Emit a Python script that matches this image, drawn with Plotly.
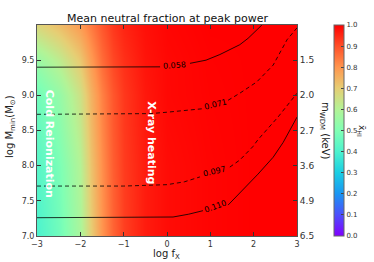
import plotly.graph_objects as go

# ---- data ----
log_fx = [-3, -2.5, -2, -1.75, -1.5, -1.25, -1, -0.5, 0, 1, 2, 3]
log_mmin = [7.0, 8.0, 9.0, 9.5, 10.0]
xhi = [
    [0.40, 0.47, 0.58, 0.70, 0.80, 0.87, 0.92, 0.965, 0.985, 0.995, 1.0, 1.0],
    [0.42, 0.49, 0.60, 0.72, 0.81, 0.88, 0.925, 0.965, 0.985, 0.995, 1.0, 1.0],
    [0.47, 0.54, 0.65, 0.75, 0.83, 0.89, 0.93, 0.97, 0.99, 0.997, 1.0, 1.0],
    [0.55, 0.62, 0.71, 0.79, 0.86, 0.91, 0.94, 0.975, 0.99, 0.998, 1.0, 1.0],
    [0.68, 0.73, 0.79, 0.84, 0.89, 0.93, 0.955, 0.98, 0.993, 1.0, 1.0, 1.0],
]

# contour lines (None = gap for inline label)
c058_x = [-3, -1, -0.16, None, 0.53, 0.9, 1.22, 1.5, 1.68, 1.87, 2.07, 2.19]
c058_y = [9.40, 9.40, 9.405, None, 9.455, 9.50, 9.58, 9.66, 9.72, 9.81, 9.93, 10.0]
c071_x = [-3, -1, -0.39, 0, 0.4, 0.83, None, 1.41, 1.68, 2.07, 2.45, 2.77, 3.0]
c071_y = [8.73, 8.73, 8.74, 8.76, 8.78, 8.81, None, 8.93, 9.03, 9.19, 9.43, 9.79, 9.96]
c097_x = [-3, -1, 0, 0.4, 0.76, None, 1.45, 1.68, 1.98, 2.1, 2.56, 3.0]
c097_y = [7.71, 7.71, 7.73, 7.77, 7.84, None, 7.98, 8.08, 8.27, 8.37, 8.69, 9.03]
c110_x = [-3, -1, 0.14, 0.5, 0.83, None, 1.41, 1.68, 2.1, 2.45, 2.68, 3.0]
c110_y = [7.26, 7.26, 7.27, 7.31, 7.36, None, 7.44, 7.61, 7.88, 8.12, 8.33, 8.69]

labels = ["0.058", "0.071", "0.097", "0.110"]
label_x = [0.18, 1.12, 1.10, 1.12]
label_y = [9.425, 8.875, 7.915, 7.42]
label_angle = [-4, -14, -13, -20]

x_ticks = [-3, -2, -1, 0, 1, 2, 3]
y_ticks = [7.0, 7.5, 8.0, 8.5, 9.0, 9.5]
y_ticktext = ["7.0", "7.5", "8.0", "8.5", "9.0", "9.5"]
mwdm_ticktext = ["6.5", "4.9", "3.6", "2.7", "2.0", "1.5"]
cb_ticks = [0.0, 0.1, 0.2, 0.3, 0.4, 0.5, 0.6, 0.7, 0.8, 0.9, 1.0]

# matplotlib 'rainbow' colormap stops
rainbow = [
    [0.0, "#8000ff"], [0.1, "#4d4ffc"], [0.2, "#1a96f3"], [0.3, "#1acee3"],
    [0.4, "#4df3ce"], [0.5, "#80ffb4"], [0.6, "#b3f396"], [0.7, "#e6ce74"],
    [0.8, "#ff964f"], [0.9, "#ff4f28"], [1.0, "#ff0000"],
]

FONT = "DejaVu Sans"
L, R, T, B = 37, 297, 25, 236
W, H = 374, 262
PW, PH = R - L, B - T


def px(xp):
    return (xp - L) / PW


def py(yp):
    return (B - yp) / PH


fig = go.Figure()

fig.add_trace(go.Heatmap(
    x=log_fx, y=log_mmin, z=xhi, zmin=0, zmax=1, zsmooth="best",
    colorscale=rainbow, showscale=True,
    colorbar=dict(
        x=px(334), xanchor="left", y=0, yanchor="bottom", len=1, lenmode="fraction",
        ypad=0, xpad=0,
        thickness=10, outlinewidth=1, outlinecolor="#666",
        tickvals=cb_ticks, ticktext=[f"{v:.1f}" for v in cb_ticks],
        ticks="inside", ticklen=3, tickcolor="#444",
        tickfont=dict(family=FONT, size=7, color="#333"),
    ),
    hoverinfo="skip",
))

for xs, ys, dash in [(c058_x, c058_y, "solid"), (c071_x, c071_y, "dash"),
                     (c097_x, c097_y, "dash"), (c110_x, c110_y, "solid")]:
    fig.add_trace(go.Scatter(x=xs, y=ys, mode="lines", connectgaps=False,
                             line=dict(color="black", width=0.8, dash=dash if dash == "solid" else "4px,3px"),
                             showlegend=False, hoverinfo="skip"))

# invisible trace for the right axis
fig.add_trace(go.Scatter(x=[-3, 3], y=[7, 10], yaxis="y2", mode="markers",
                         marker=dict(opacity=0), showlegend=False, hoverinfo="skip"))

for t, lx, ly, ang in zip(labels, label_x, label_y, label_angle):
    fig.add_annotation(x=lx, y=ly, text=t, showarrow=False, textangle=ang,
                       xanchor="center", yanchor="middle",
                       font=dict(family=FONT, size=8, color="black"))

fig.add_annotation(x=-2.72, y=8.31, text="<b>Cold Reionization</b>", showarrow=False,
                   textangle=90, xanchor="center", yanchor="middle",
                   font=dict(family=FONT, size=11, color="white"))
fig.add_annotation(x=-0.35, y=8.32, text="<b>X-ray heating</b>", showarrow=False,
                   textangle=90, xanchor="center", yanchor="middle",
                   font=dict(family=FONT, size=11, color="white"))

# axis titles
fig.add_annotation(xref="paper", yref="paper", x=px(10), y=py(127),
                   text="log M<sub>min</sub>(M<sub>\u2299</sub>)", showarrow=False, textangle=-90,
                   xanchor="center", yanchor="middle",
                   font=dict(family=FONT, size=10, color="#222"))
fig.add_annotation(xref="paper", yref="paper", x=px(166), y=py(255),
                   text="log f<sub>X</sub>", showarrow=False,
                   xanchor="center", yanchor="middle",
                   font=dict(family=FONT, size=10, color="#222"))
fig.add_annotation(xref="paper", yref="paper", x=px(325), y=py(131),
                   text="m<sub>WDM</sub> (keV)", showarrow=False, textangle=90,
                   xanchor="center", yanchor="middle",
                   font=dict(family=FONT, size=10, color="#222"))
fig.add_annotation(xref="paper", yref="paper", x=px(362), y=py(131),
                   text="x\u0304<sub>HI</sub>", showarrow=False, textangle=90,
                   xanchor="center", yanchor="middle",
                   font=dict(family=FONT, size=9, color="#222"))
fig.add_annotation(xref="paper", yref="paper", x=px(167), y=py(19),
                   text="Mean neutral fraction at peak power", showarrow=False,
                   xanchor="center", yanchor="middle",
                   font=dict(family=FONT, size=11, color="#111"))

axis_common = dict(showline=True, linecolor="#555", linewidth=1, ticks="inside",
                   ticklen=4, tickcolor="#333", showgrid=False, zeroline=False,
                   automargin=False)

fig.update_layout(
    width=W, height=H,
    margin=dict(l=L, r=W - R, t=T, b=H - B, autoexpand=False),
    paper_bgcolor="white", plot_bgcolor="white",
    font=dict(family=FONT, color="#222"),
    xaxis=dict(range=[-3, 3], tickvals=x_ticks, ticktext=["\u22123", "\u22122", "\u22121", "0", "1", "2", "3"],
               mirror="ticks", tickfont=dict(family=FONT, size=8, color="#333"),
               **axis_common),
    yaxis=dict(range=[7, 10], tickvals=y_ticks, ticktext=y_ticktext,
               tickfont=dict(family=FONT, size=8, color="#333"),
               **axis_common),
    yaxis2=dict(range=[7, 10], overlaying="y", side="right", tickvals=y_ticks,
                ticktext=mwdm_ticktext, tickfont=dict(family=FONT, size=9, color="#333"),
                **axis_common),
)

fig.write_html("out.html", config={"displayModeBar": False},
               post_script="document.body.style.margin='0px';document.body.style.overflow='hidden';")
